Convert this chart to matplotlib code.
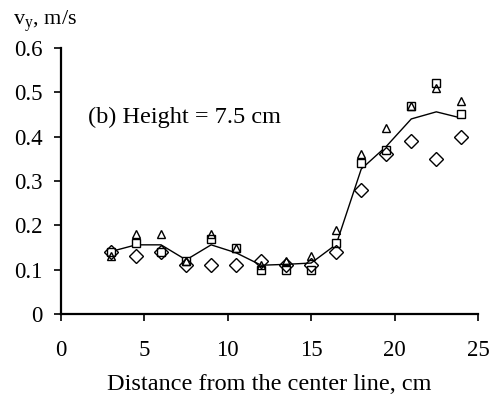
import matplotlib
matplotlib.use("Agg")
import matplotlib.pyplot as plt

x = [3, 4.5, 6, 7.5, 9, 10.5, 12, 13.5, 15, 16.5, 18, 19.5, 21, 22.5, 24]
squares = [0.14, 0.16, 0.14, 0.12, 0.17, 0.15, 0.10, 0.10, 0.10, 0.16, 0.34, 0.37, 0.47, 0.52, 0.45]
triangles = [0.13, 0.18, 0.18, 0.12, 0.18, 0.15, 0.11, 0.12, 0.13, 0.19, 0.36, 0.42, 0.47, 0.51, 0.48]
diamonds = [0.14, 0.13, 0.14, 0.11, 0.11, 0.11, 0.12, 0.11, 0.11, 0.14, 0.28, 0.36, 0.39, 0.35, 0.40]
line = [0.141, 0.156, 0.156, 0.122, 0.156, 0.138, 0.11, 0.112, 0.115, 0.157, 0.327, 0.378, 0.44, 0.456, 0.442]

plt.rcParams['font.family'] = ['Liberation Serif', 'DejaVu Serif']

fig = plt.figure(figsize=(4.91, 3.94), dpi=100)
ax = fig.add_axes([61/491, 1 - 314/394, (478-61)/491, (314-48)/394])

ax.plot(x, line, color='black', lw=1.0)
ax.plot(x, squares, ls='none', marker='s', ms=6, mfc='white', mec='black', mew=1.0)
ax.plot(x, triangles, ls='none', marker='^', ms=6, mfc='none', mec='black', mew=1.0)
ax.plot(x, diamonds, ls='none', marker='D', ms=7, mfc='none', mec='black', mew=1.0)

ax.set_xlim(0, 25)
ax.set_ylim(0, 0.6)
ax.set_xticks([0, 5, 10, 15, 20, 25])
ax.set_yticks([0, 0.1, 0.2, 0.3, 0.4, 0.5, 0.6])
ax.set_yticklabels(['0', '0.1', '0.2', '0.3', '0.4', '0.5', '0.6'])
for s in ['top', 'right']:
    ax.spines[s].set_visible(False)
for s in ['left', 'bottom']:
    ax.spines[s].set_linewidth(1.6)
ax.tick_params(direction='out', length=5, width=1.2, labelsize=16.5)
ax.tick_params(axis='x', pad=14)
ax.tick_params(axis='y', pad=8)

ax.text(0.065, 0.718, '(b) Height = 7.5 cm', transform=ax.transAxes, fontsize=17.5)
fig.text(13/491, 1 - 25/394, r'v$_\mathregular{y}$, m/s', fontsize=16, va='baseline')
ax.set_xlabel('Distance from the center line, cm', fontsize=17.5, labelpad=9)

fig.savefig('out.png', dpi=100)
